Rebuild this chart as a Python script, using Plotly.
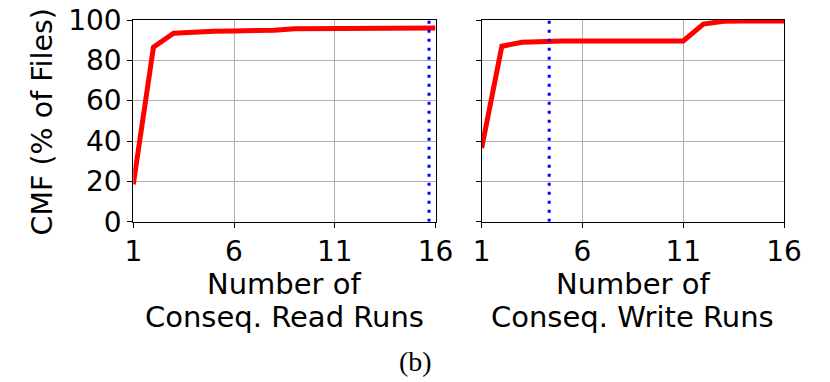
import plotly.graph_objects as go

W, H = 830, 382

# Data
read_x = [1, 2, 3, 4, 5, 6, 7, 8, 9, 10, 11, 12, 13, 14, 15, 16]
read_cmf = [18.5, 86.5, 93.4, 94.1, 94.4, 94.6, 94.7, 94.9, 95.7, 95.8, 95.8, 95.9, 95.9, 96.0, 96.0, 96.0]
write_x = [1, 2, 3, 4, 5, 6, 7, 8, 9, 10, 11, 12, 13, 14, 15, 16]
write_cmf = [36.5, 87.0, 89.0, 89.5, 89.6, 89.6, 89.6, 89.6, 89.6, 89.6, 89.6, 98.0, 99.4, 99.5, 99.5, 99.5]
read_mark = 15.68
write_mark = 4.35
x_ticks = [1, 6, 11, 16]
y_ticks = [0, 20, 40, 60, 80, 100]

FONT = "DejaVu Sans"

def px_x(p):
    return p / W

def px_y(p):
    return 1 - p / H

fig = go.Figure()

fig.add_trace(go.Scatter(x=read_x, y=read_cmf, mode="lines",
                         line=dict(color="#ff0000", width=5), xaxis="x", yaxis="y",
                         showlegend=False))
fig.add_trace(go.Scatter(x=[read_mark, read_mark], y=[0, 100], mode="lines",
                         line=dict(color="#0000ff", width=3, dash="3px,6px"),
                         xaxis="x", yaxis="y", showlegend=False))
fig.add_trace(go.Scatter(x=write_x, y=write_cmf, mode="lines",
                         line=dict(color="#ff0000", width=5), xaxis="x2", yaxis="y2",
                         showlegend=False))
fig.add_trace(go.Scatter(x=[write_mark, write_mark], y=[0, 100], mode="lines",
                         line=dict(color="#0000ff", width=3, dash="3px,6px"),
                         xaxis="x2", yaxis="y2", showlegend=False))

ax_common = dict(showline=True, linecolor="black", linewidth=1, mirror=True,
                 ticks="outside", ticklen=5, tickcolor="black", tickwidth=1,
                 showgrid=True, gridcolor="#b0b0b0", gridwidth=1, zeroline=False,
                 automargin=False, ticklabeloverflow="allow",
                 tickfont=dict(family=FONT, size=28, color="black"))

xdom1 = [px_x(133.3), px_x(435.5)]
xdom2 = [px_x(481.7), px_x(784)]
ydom = [px_y(221.7), px_y(20)]

fig.update_layout(
    template="none",
    width=W, height=H,
    margin=dict(l=0, r=0, t=0, b=0),
    paper_bgcolor="white", plot_bgcolor="white",
    xaxis=dict(domain=xdom1, range=[1, 16], tickvals=x_ticks, anchor="y", **ax_common),
    yaxis=dict(domain=ydom, range=[0, 100], tickvals=y_ticks, anchor="x", **ax_common),
    xaxis2=dict(domain=xdom2, range=[1, 16], tickvals=x_ticks, anchor="y2", **ax_common),
    yaxis2=dict(domain=ydom, range=[0, 100], tickvals=y_ticks, anchor="x2",
                showticklabels=False, **ax_common),
)

def ann(text, x, y, size=29, family=FONT, angle=0):
    fig.add_annotation(text=text, x=px_x(x), y=px_y(y), xref="paper", yref="paper",
                       showarrow=False, xanchor="center", yanchor="middle",
                       textangle=angle, font=dict(family=family, size=size, color="black"))

ann("CMF (% of Files)", 42, 122.5, size=28.5, angle=-90)
ann("Number of", 284.4, 284)
ann("Conseq. Read Runs", 284.4, 317)
ann("Number of", 632.8, 284)
ann("Conseq. Write Runs", 632.8, 317)
ann("(b)", 415, 361, size=28, family="Liberation Serif")

fig.write_html("out.html",
               config={"displayModeBar": False},
               post_script="document.body.style.margin='0';document.body.style.overflow='hidden';")
